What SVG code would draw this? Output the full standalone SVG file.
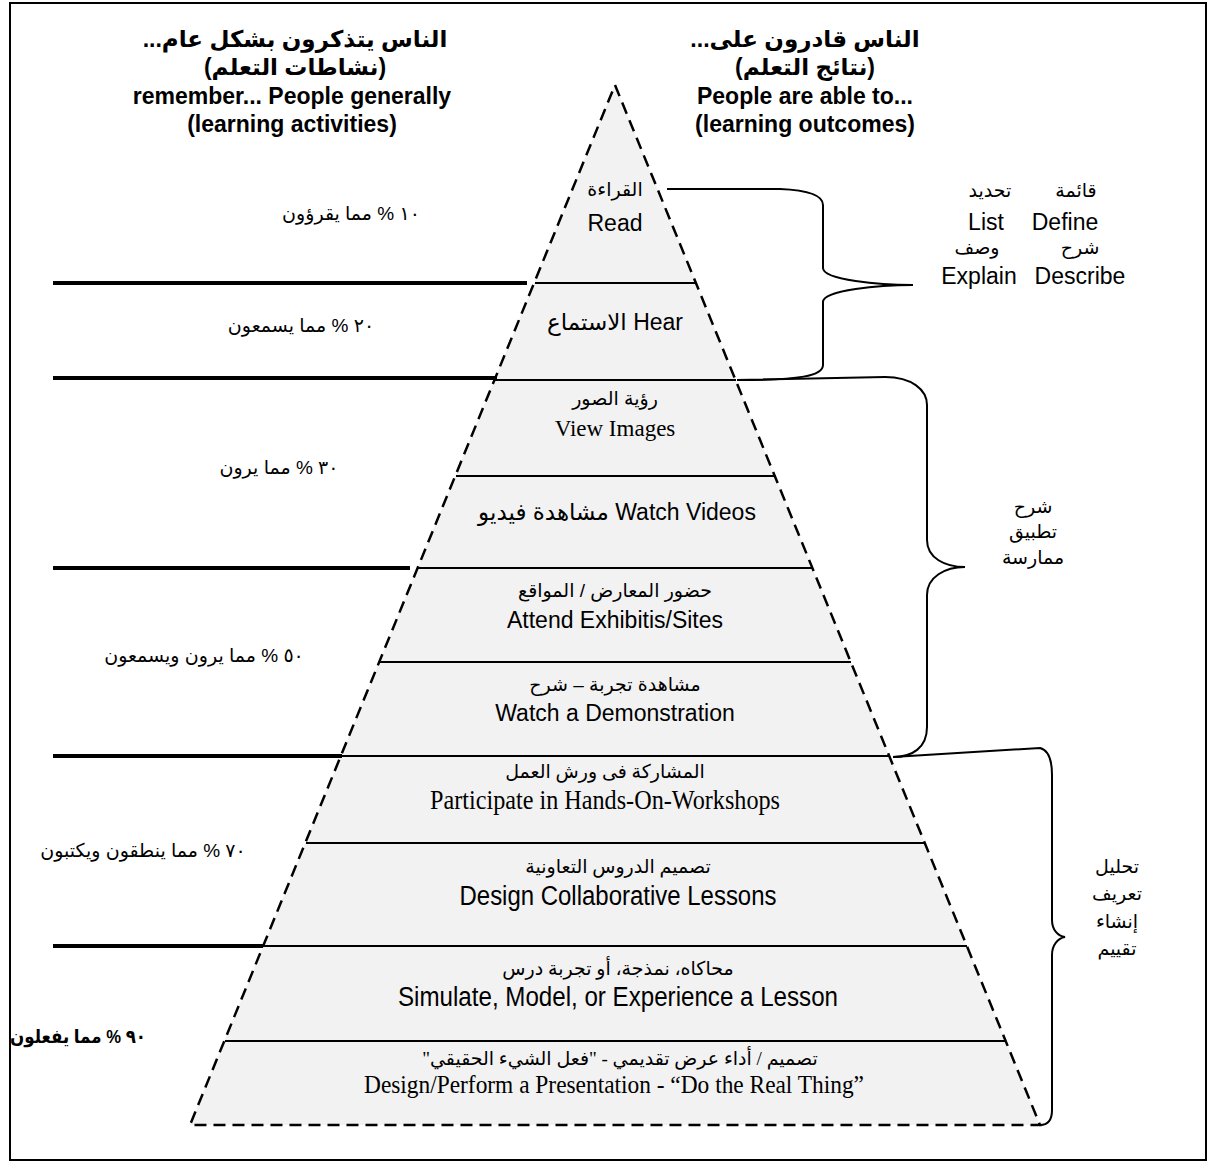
<svg xmlns="http://www.w3.org/2000/svg" width="1212" height="1167" viewBox="0 0 1212 1167">
<style>
text{fill:#000}
.hd{font-family:"Liberation Sans","DejaVu Sans",sans-serif;font-weight:bold;font-size:23px;text-anchor:middle}
.s{font-family:"Liberation Sans","DejaVu Sans",sans-serif;text-anchor:middle}
.t{font-family:"Liberation Serif","DejaVu Sans",serif;text-anchor:middle}
.en{font-size:23px}
.arb{font-size:19px}
.pct{font-family:"Liberation Sans","DejaVu Sans",sans-serif;font-size:19px;text-anchor:middle}
.sep{stroke:#000;stroke-width:4}
.band{stroke:#000;stroke-width:1.8}
.brace{fill:none;stroke:#000;stroke-width:2}
</style>
<rect x="10" y="3" width="1196" height="1157" fill="#fff" stroke="#000" stroke-width="2"/>

<g id="header-left">
<text class="hd" x="295" y="47" direction="rtl">الناس يتذكرون بشكل عام...</text>
<text class="hd" x="295" y="75" direction="rtl">(نشاطات التعلم)</text>
<text class="hd" x="292" y="104">remember... People generally</text>
<text class="hd" x="292" y="132">(learning activities)</text>
</g>
<g id="header-right">
<text class="hd" x="805" y="47" direction="rtl">الناس قادرون على...</text>
<text class="hd" x="805" y="75" direction="rtl">(نتائج التعلم)</text>
<text class="hd" x="805" y="104">People are able to...</text>
<text class="hd" x="805" y="132">(learning outcomes)</text>
</g>

<g id="pyramid">
<polygon points="615,85 1040,1125 190,1125" fill="#f2f2f2" stroke="#000" stroke-width="2.5" stroke-dasharray="12 7"/>
<line class="band" x1="535" y1="283" x2="696" y2="283"/>
<line class="band" x1="495" y1="380" x2="736" y2="380"/>
<line class="band" x1="456" y1="476" x2="775" y2="476"/>
<line class="band" x1="418" y1="568" x2="812" y2="568"/>
<line class="band" x1="380" y1="662" x2="851" y2="662"/>
<line class="band" x1="341" y1="756" x2="889" y2="756"/>
<line class="band" x1="306" y1="843" x2="925" y2="843"/>
<line class="band" x1="264" y1="946" x2="967" y2="946"/>
<line class="band" x1="225" y1="1041" x2="1006" y2="1041"/>
</g>

<g id="band-read">
<text class="s arb" x="615" y="196" direction="rtl">القراءة</text>
<text class="s en" x="615" y="231">Read</text>
</g>
<g id="band-hear">
<text class="s en" x="615" y="330">الاستماع Hear</text>
</g>
<g id="band-view">
<text class="s arb" x="615" y="405" direction="rtl">رؤية الصور</text>
<text class="t" x="615" y="436" font-size="23">View Images</text>
</g>
<g id="band-videos">
<text class="s en" x="617" y="520">مشاهدة فيديو Watch Videos</text>
</g>
<g id="band-exhibits">
<text class="s arb" x="615" y="597" direction="rtl">حضور المعارض / المواقع</text>
<text class="s en" x="615" y="628">Attend Exhibitis/Sites</text>
</g>
<g id="band-demo">
<text class="s arb" x="615" y="691" direction="rtl">مشاهدة تجربة – شرح</text>
<text class="s en" x="615" y="721">Watch a Demonstration</text>
</g>
<g id="band-workshops">
<text class="t arb" x="605" y="778" direction="rtl">المشاركة فى ورش العمل</text>
<text class="t" x="605" y="809" font-size="27" textLength="350" lengthAdjust="spacingAndGlyphs">Participate in Hands-On-Workshops</text>
</g>
<g id="band-collab">
<text class="t arb" x="618" y="873" direction="rtl">تصميم الدروس التعاونية</text>
<text class="s" x="618" y="905" font-size="27" textLength="317" lengthAdjust="spacingAndGlyphs">Design Collaborative Lessons</text>
</g>
<g id="band-simulate">
<text class="t arb" x="618" y="975" direction="rtl">محاكاه، نمذجة، أو تجربة درس</text>
<text class="s" x="618" y="1006" font-size="27" textLength="440" lengthAdjust="spacingAndGlyphs">Simulate, Model, or Experience a Lesson</text>
</g>
<g id="band-present">
<text class="t arb" x="620" y="1065" direction="rtl">تصميم / أداء عرض تقديمي - "فعل الشيء الحقيقي"</text>
<text class="t" x="614" y="1093" font-size="26" textLength="500" lengthAdjust="spacingAndGlyphs">Design/Perform a Presentation - “Do the Real Thing”</text>
</g>

<g id="left-labels">
<line class="sep" x1="53" y1="283" x2="527" y2="283"/>
<line class="sep" x1="53" y1="378" x2="497" y2="378"/>
<line class="sep" x1="53" y1="568" x2="410" y2="568"/>
<line class="sep" x1="53" y1="756" x2="342" y2="756"/>
<line class="sep" x1="53" y1="946" x2="263" y2="946"/>
<text class="pct" x="351" y="220" direction="rtl">١٠ % مما يقرؤون</text>
<text class="pct" x="301" y="332" direction="rtl">٢٠ % مما يسمعون</text>
<text class="pct" x="279" y="474" direction="rtl">٣٠ % مما يرون</text>
<text class="pct" x="204" y="662" direction="rtl">٥٠ % مما يرون ويسمعون</text>
<text class="pct" x="143" y="857" direction="rtl">٧٠ % مما ينطقون ويكتبون</text>
<text class="pct" x="78" y="1043" direction="rtl" font-weight="bold" font-size="17" textLength="136" lengthAdjust="spacingAndGlyphs">٩٠ % مما يفعلون</text>
</g>

<g id="connectors">
<path class="brace" d="M667,189 L780,189 C805,190 823,194 823,205 L823,268 C823,280 880,285 913,285 C880,285 823,290 823,302 L823,365 C823,376 800,380 737,380"/>
<path class="brace" d="M737,380 L885,377 C912,377 927,390 927,405 L927,540 C927,558 945,567 965,567 C945,567 927,577 927,595 L927,727 C927,748 912,757 893,757"/>
<path class="brace" d="M893,757 L1040,748 C1048,750 1052,758 1052,775 L1052,920 C1052,930 1058,936 1065,937 C1058,938 1052,945 1052,955 L1052,1110 C1052,1120 1048,1125 1040,1125"/>
</g>

<g id="outcomes-1">
<text class="s arb" x="1076" y="197" direction="rtl">قائمة</text>
<text class="s arb" x="990" y="197" direction="rtl">تحديد</text>
<text class="s en" x="986" y="230">List</text>
<text class="s en" x="1065" y="230">Define</text>
<text class="s arb" x="1080" y="254" direction="rtl">شرح</text>
<text class="s arb" x="977" y="254" direction="rtl">وصف</text>
<text class="s en" x="979" y="284">Explain</text>
<text class="s en" x="1080" y="284">Describe</text>
</g>
<g id="outcomes-2">
<text class="s arb" x="1033" y="513" direction="rtl">شرح</text>
<text class="s arb" x="1033" y="538" direction="rtl">تطبيق</text>
<text class="s arb" x="1033" y="564" direction="rtl">ممارسة</text>
</g>
<g id="outcomes-3">
<text class="s arb" x="1117" y="873" direction="rtl">تحليل</text>
<text class="s arb" x="1117" y="900" direction="rtl">تعريف</text>
<text class="s arb" x="1117" y="928" direction="rtl">إنشاء</text>
<text class="s arb" x="1117" y="955" direction="rtl">تقييم</text>
</g>
</svg>
